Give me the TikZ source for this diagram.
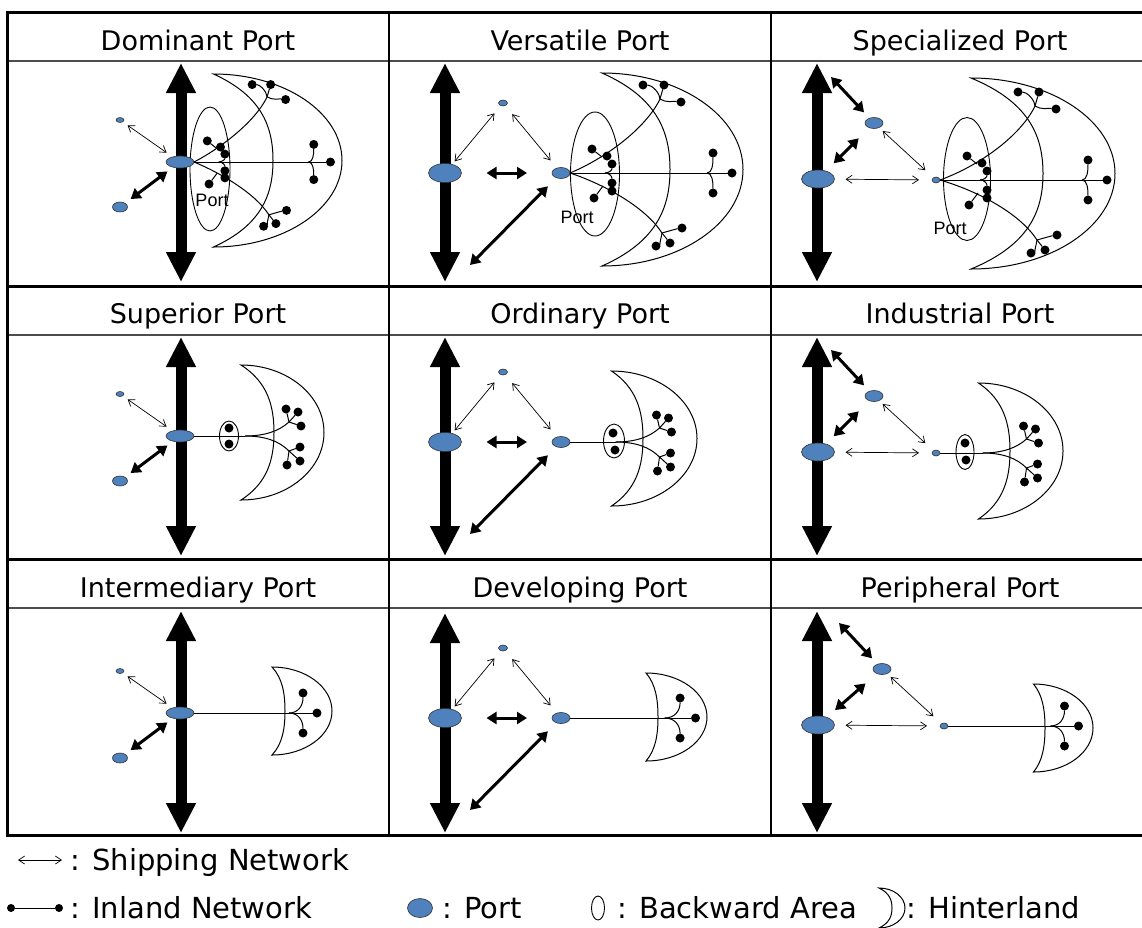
\documentclass[tikz,border=0pt]{standalone}
\usepackage{fontspec}
\setmainfont{DejaVu Sans}
\newfontfamily\labelfont{Liberation Sans}
\usetikzlibrary{arrows.meta}
\usetikzlibrary{shapes.geometric}
\definecolor{portblue}{RGB}{79,129,189}
\tikzstyle{port}=[ellipse, draw=black!80, line width=0.6pt, fill=portblue, inner sep=0, outer sep=0]
\tikzstyle{bigport}=[port, minimum width=33pt, minimum height=19pt]
\tikzstyle{midport}=[port, minimum width=18pt, minimum height=11pt]
\tikzstyle{tinyport}=[port, minimum width=9pt, minimum height=6pt]
\tikzstyle{hubport}=[port, minimum width=28pt, minimum height=12pt]
\tikzstyle{sideport}=[port, minimum width=15pt, minimum height=10pt]
\tikzstyle{backarea}=[ellipse, draw, line width=0.9pt, inner sep=0, outer sep=0]
\tikzstyle{town}=[circle, fill=black, inner sep=0, outer sep=0, minimum size=9pt]
\tikzstyle{inland}=[line width=1pt]
\tikzstyle{hinterland}=[line width=1pt]
\tikzstyle{searoute}=[line width=11pt, {Triangle[length=30pt,width=28pt]}-{Triangle[length=30pt,width=28pt]}]
\tikzstyle{trunk}=[line width=3pt, {Triangle[length=10pt,width=12pt]}-{Triangle[length=10pt,width=12pt]}]
\tikzstyle{feeder}=[line width=0.7pt, {Straight Barb[length=6pt,width=8pt]}-{Straight Barb[length=6pt,width=8pt]}]
\tikzstyle{frame}=[line width=3pt]
\tikzstyle{headline}=[line width=1.3pt, black!70]
\tikzstyle{title}=[font=\fontsize{27}{30}\selectfont, anchor=base, inner sep=0]
\tikzstyle{portlabel}=[font=\labelfont\fontsize{18}{20}\selectfont, inner sep=0]
\tikzstyle{legend}=[font=\fontsize{29}{32}\selectfont, anchor=base west, inner sep=0]

% crescent: x, y of the tips' midpoint, outer reach, inner reach, half height
\newcommand{\moon}[5]{%
  \begin{scope}[shift={(#1,#2)}]
    \draw[hinterland] (0,-#5) .. controls (0.552*#3,-#5) and (#3,-0.552*#5) .. (#3,0)
      .. controls (#3,0.552*#5) and (0.552*#3,#5) .. (0,#5)
      .. controls (0.8*#4,0.75*#5) and (#4,0.4*#5) .. (#4,0)
      .. controls (#4,-0.4*#5) and (0.8*#4,-0.75*#5) .. cycle;
  \end{scope}}

% left networks: prefix, port y, arrow top, arrow bottom
\newcommand{\dominantnet}[4]{%
  \coordinate (#1top) at (181,#3);
  \coordinate (#1bot) at (181,#4);
  \draw[searoute] (#1top) -- (#1bot);
  \node[hubport] (#1P) at (180,#2) {};
  \node[port, minimum width=8pt, minimum height=5pt] (#1S) at (120,#2-42) {};
  \node[sideport] (#1L) at (120,#2+45) {};
  \draw[feeder, shorten <=6pt, shorten >=7.5pt] (#1S) -- (#1P);
  \draw[trunk, shorten <=7pt, shorten >=7pt] (#1L) -- (#1P);}

\newcommand{\versatilenet}[4]{%
  \coordinate (#1top) at (445,#3);
  \coordinate (#1bot) at (445,#4);
  \draw[searoute] (#1top) -- (#1bot);
  \node[bigport] (#1B) at (445,#2) {};
  \node[tinyport] (#1T) at (503,#2-70) {};
  \node[midport] (#1M) at (561,#2) {};
  \coordinate (#1far) at (470,#2+92);
  \draw[feeder, shorten <=10pt, shorten >=4pt] (#1T) -- (#1B);
  \draw[feeder, shorten <=11pt, shorten >=10pt] (#1T) -- (#1M);
  \draw[trunk, shorten <=25pt, shorten >=25pt] (#1B) -- (#1M);
  \draw[trunk, shorten >=12pt] (#1far) -- (#1M);}

% extra argument: shift of the two inner ports
\newcommand{\specializednet}[5]{%
  \coordinate (#1top) at (817,#3);
  \coordinate (#1bot) at (817,#4);
  \draw[searoute] (#1top) -- (#1bot);
  \node[bigport, minimum height=18pt] (#1B) at (818,#2) {};
  \node[midport] (#1N) at (874+#5,#2-56) {};
  \node[port, minimum width=8pt, minimum height=6pt] (#1S) at (936+#5,#2+1) {};
  \coordinate (#1near) at (831+#5,#2-102);
  \draw[trunk, shorten >=8pt] (#1near) -- (#1N);
  \draw[trunk, shorten <=11pt, shorten >=15pt] (#1B) -- (#1N);
  \draw[feeder, shorten <=11pt, shorten >=13pt] (#1B) -- (#1S);
  \draw[feeder, shorten <=5pt, shorten >=11pt] (#1N) -- (#1S);}

% inland trees: prefix, port node, ...
\newcommand{\bigtree}[3]{%
  \begin{scope}[shift={(#2.center)}, scale=#3]
    \node[town] (#1h1) at (152,-20) {};
    \node[town] (#1h2) at (171,0) {};
    \node[town] (#1h3) at (152,20) {};
    \node[town] (#1u1) at (82,-88) {};
    \node[town] (#1u2) at (103,-88) {};
    \node[town] (#1u3) at (120,-71) {};
    \node[town] (#1d1) at (95,73) {};
    \node[town] (#1d2) at (109,70) {};
    \node[town] (#1d3) at (121,55) {};
    \node[town] (#1n1) at (31,-24) {};
    \node[town] (#1n2) at (46,-17) {};
    \node[town] (#1n3) at (51,-9) {};
    \node[town] (#1n4) at (51,10) {};
    \node[town] (#1n5) at (51,18) {};
    \node[town] (#1n6) at (33,25) {};
    \coordinate (#1hs) at (146,0);
    \coordinate (#1us) at (99,-74);
    \coordinate (#1ds) at (101,60);
    \coordinate (#1ns) at (44,0);
    \coordinate (#1na) at (41,-16);
    \coordinate (#1nd) at (42,13);
    \draw[inland] (#2) -- (#1h2);
    \draw[inland] (#1hs) .. controls (151,0) and (152,-8) .. (#1h1);
    \draw[inland] (#1hs) .. controls (151,0) and (152,8) .. (#1h3);
    \draw[inland] (#2.east) .. controls (45,-15) and (85,-45) .. (#1us);
    \draw[inland] (#2.east) .. controls (45,12) and (85,35) .. (#1ds);
    \draw[inland] (#1us) .. controls (98,-82) and (90,-88) .. (#1u1);
    \draw[inland] (#1us) -- (#1u2);
    \draw[inland] (#1us) .. controls (105,-70) and (112,-72) .. (#1u3);
    \draw[inland] (#1ds) .. controls (100,66) and (98,72) .. (#1d1);
    \draw[inland] (#1ds) -- (#1d2);
    \draw[inland] (#1ds) .. controls (108,58) and (115,56) .. (#1d3);
    \draw[inland] (#1na) -- (#1n1);
    \draw[inland] (#1ns) .. controls (48,0) and (51,-3) .. (#1n3);
    \draw[inland] (#1ns) .. controls (48,0) and (51,3) .. (#1n4);
    \draw[inland] (#1nd) -- (#1n6);
  \end{scope}}

\newcommand{\midtree}[3]{%
  \begin{scope}[shift={(#3,0 |- #2)}]
    \node[town] (#1u1) at (45,-27) {};
    \node[town] (#1u2) at (57,-24) {};
    \node[town] (#1u3) at (60,-10) {};
    \node[town] (#1d1) at (59,11) {};
    \node[town] (#1d2) at (59,25) {};
    \node[town] (#1d3) at (46,29) {};
    \coordinate (#1s) at (4,0);
    \coordinate (#1uf) at (48,-14);
    \coordinate (#1df) at (48,15);
    \draw[inland] (#2) -- (#1s);
    \draw[inland] (#1s) .. controls (24,0) and (38,-5) .. (#1uf);
    \draw[inland] (#1s) .. controls (24,0) and (38,5) .. (#1df);
    \draw[inland] (#1uf) -- (#1u1);
    \draw[inland] (#1uf) -- (#1u2);
    \draw[inland] (#1uf) -- (#1u3);
    \draw[inland] (#1df) -- (#1d1);
    \draw[inland] (#1df) -- (#1d2);
    \draw[inland] (#1df) -- (#1d3);
  \end{scope}}

\newcommand{\smalltree}[4]{%
  \begin{scope}[shift={(#3,0 |- #2)}, xscale=#4]
    \node[town] (#1t1) at (31,-20) {};
    \node[town] (#1t2) at (45,0) {};
    \node[town] (#1t3) at (31,20) {};
    \coordinate (#1s) at (17,0);
    \draw[inland] (#2) -- (#1t2);
    \draw[inland] (#1s) .. controls (26,0) and (31,-7) .. (#1t1);
    \draw[inland] (#1s) .. controls (26,0) and (31,7) .. (#1t3);
  \end{scope}}

\begin{document}
\begin{tikzpicture}[x=1pt, y=-1pt]
  \useasboundingbox[fill=white] (0,0) rectangle (1142,927);
  % table
  \draw[headline] (7,61) -- (1152,61);
  \draw[headline] (7,335) -- (1152,335);
  \draw[headline] (7,608) -- (1152,608);
  \draw[frame] (7,286) -- (1152,286);
  \draw[frame] (7,559) -- (1152,559);
  \draw[line width=2.7pt] (389,12) -- (389,835);
  \draw[line width=2.7pt] (771,12) -- (771,835);
  \draw[frame] (7,12) rectangle (1152,835);
  % titles
  \node[title] (dominant) at (198,50) {Dominant Port};
  \node[title] (versatile) at (580,50) {Versatile Port};
  \node[title] (specialized) at (960,50) {Specialized Port};
  \node[title] (superior) at (198,323) {Superior Port};
  \node[title] (ordinary) at (580,323) {Ordinary Port};
  \node[title] (industrial) at (960,323) {Industrial Port};
  \node[title] (intermediary) at (198,597) {Intermediary Port};
  \node[title] (developing) at (580,597) {Developing Port};
  \node[title] (peripheral) at (960,597) {Peripheral Port};

  % first row
  \node[backarea, minimum width=40pt, minimum height=124pt] (aback) at (210,169) {};
  \moon{213.5}{160.5}{128.5}{59.5}{86.5}
  \dominantnet{a}{162}{63}{282}
  \bigtree{ab}{aP}{0.88}
  \node[portlabel] (alabel) at (212,200) {Port};

  \node[backarea, minimum width=49pt, minimum height=124pt] (bback) at (595,174) {};
  \moon{602}{169.5}{141}{68}{96.5}
  \versatilenet{b}{173}{63}{282}
  \bigtree{bb}{bM}{1}
  \node[portlabel] (blabel) at (577,217) {Port};

  \node[backarea, minimum width=47pt, minimum height=123pt] (cback) at (967,179) {};
  \moon{971}{173.5}{144}{72}{95.5}
  \specializednet{c}{179}{63}{282}{0}
  \bigtree{cb}{cS}{1}
  \node[portlabel] (clabel) at (950,228) {Port};

  % second row
  \node[backarea, minimum width=19pt, minimum height=30pt] (dback) at (229,436) {};
  \node[town] (dback1) at (229,428) {};
  \node[town] (dback2) at (229,444) {};
  \moon{241}{432.5}{83}{33}{67.5}
  \dominantnet{d}{436}{337}{556}
  \midtree{dm}{dP}{241}

  \node[backarea, minimum width=21pt, minimum height=34pt] (eback) at (614,441) {};
  \node[town] (eback1) at (613,433) {};
  \node[town] (eback2) at (615,450) {};
  \moon{611.5}{438.5}{85.5}{31.5}{67.5}
  \versatilenet{e}{442}{337}{556}
  \midtree{em}{eM}{611.5}

  \node[backarea, minimum width=18pt, minimum height=35pt] (fback) at (965,452) {};
  \node[town] (fback1) at (965,443) {};
  \node[town] (fback2) at (966,460) {};
  \moon{978.5}{451}{84.5}{31.5}{68}
  \specializednet{f}{452}{337}{556}{0}
  \midtree{fm}{fS}{978.5}

  % third row
  \moon{272}{711}{60}{13}{44}
  \dominantnet{g}{713}{611}{833}
  \smalltree{gs}{gP}{272}{1}

  \moon{646}{717}{61}{12}{44}
  \versatilenet{h}{718}{613}{833}
  \smalltree{hs}{hM}{646}{1.1}

  \moon{1033.5}{728}{59.5}{11.5}{44}
  \specializednet{i}{725}{611}{833}{8}
  \smalltree{is}{iS}{1033.5}{1}

  % legend
  \coordinate (shipa) at (18,860);
  \coordinate (shipb) at (62,860);
  \draw[feeder] (shipa) -- (shipb);
  \node[legend] (shiptext) at (70,870) {: Shipping Network};
  \node[town, minimum size=8pt] (inla) at (11,908) {};
  \node[town, minimum size=8pt] (inlb) at (59,908) {};
  \draw[inland] (inla) -- (inlb);
  \node[legend] (inltext) at (70,918) {: Inland Network};
  \node[port, minimum width=25pt, minimum height=19pt] (legport) at (420,908) {};
  \node[legend] (porttext) at (442,918) {: Port};
  \node[backarea, minimum width=13pt, minimum height=24pt] (legback) at (598,908) {};
  \node[legend] (backtext) at (617,918) {: Backward Area};
  \moon{879}{908}{26}{13}{20}
  \node[legend] (hintext) at (906,918) {: Hinterland};
\end{tikzpicture}
\end{document}
